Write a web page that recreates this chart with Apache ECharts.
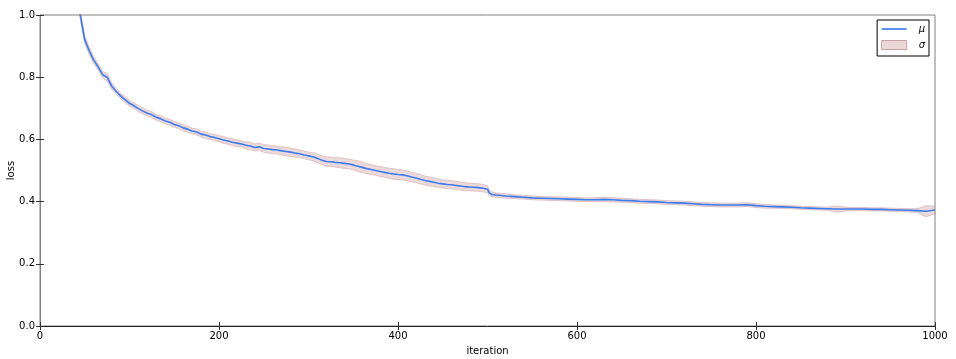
<!DOCTYPE html>
<html>
<head>
<meta charset="utf-8">
<script src="https://cdn.jsdelivr.net/npm/echarts@6/dist/echarts.min.js"></script>
<style>
html,body{margin:0;padding:0;background:#fff;}
#chart{width:956px;height:359px;}
</style>
</head>
<body>
<div id="chart"></div>
<script>
// ---- data ----
const iterations = [
  0, 10, 20, 30, 40,
  50, 55, 60, 65, 70, 75, 80, 85, 90, 95,
  100, 105, 110, 115, 120, 125, 130, 135, 140, 145, 150, 155, 160, 165, 170, 175, 180, 185, 190, 195,
  200, 205, 210, 215, 220, 225, 230, 235, 240, 245, 250, 255, 260, 265, 270, 275, 280, 285, 290, 295,
  300, 305, 310, 315, 320, 325, 330, 335, 340, 345, 350, 355, 360, 365, 370, 375, 380, 385, 390, 395,
  400, 405, 410, 415, 420, 425, 430, 435, 440, 445, 450, 455, 460, 465, 470, 475, 480, 485, 490, 495,
  500, 502, 505,
  510, 520, 530, 540, 550, 560, 570, 580, 590,
  600, 610, 620, 630, 640, 650, 660, 670, 680, 690,
  700, 710, 720, 730, 740, 750, 760, 770, 780, 790,
  800, 810, 820, 830, 840, 850, 860, 870, 880, 890,
  900, 910, 920, 930, 940, 950, 960, 970, 980, 990, 1000
];
const muValues = [
  1.70, 1.50, 1.33, 1.20, 1.08,
  0.920, 0.885, 0.855, 0.833, 0.808, 0.800, 0.772, 0.755, 0.740, 0.728,
  0.716, 0.708, 0.699, 0.691, 0.684, 0.679, 0.671, 0.666, 0.659, 0.655, 0.648, 0.644, 0.637, 0.633, 0.627, 0.624, 0.617, 0.614, 0.609, 0.606,
  0.602, 0.598, 0.595, 0.591, 0.588, 0.585, 0.581, 0.579, 0.574, 0.576, 0.571, 0.569, 0.567, 0.566, 0.563, 0.561, 0.559, 0.556, 0.554, 0.550,
  0.547, 0.544, 0.539, 0.533, 0.529, 0.528, 0.526, 0.525, 0.523, 0.521, 0.518, 0.514, 0.510, 0.506, 0.503, 0.500, 0.497, 0.494, 0.491, 0.489,
  0.487, 0.486, 0.483, 0.479, 0.476, 0.472, 0.468, 0.465, 0.462, 0.459, 0.457, 0.455, 0.454, 0.452, 0.450, 0.448, 0.447, 0.446, 0.445, 0.443,
  0.440, 0.428, 0.423,
  0.421, 0.418, 0.416, 0.414, 0.412, 0.411, 0.410, 0.409, 0.408,
  0.407, 0.406, 0.406, 0.407, 0.406, 0.404, 0.403, 0.401, 0.400, 0.399,
  0.397, 0.396, 0.395, 0.393, 0.391, 0.390, 0.389, 0.389, 0.389, 0.390,
  0.387, 0.385, 0.384, 0.383, 0.382, 0.380, 0.379, 0.378, 0.377, 0.376,
  0.376, 0.376, 0.376, 0.375, 0.375, 0.374, 0.373, 0.372, 0.371, 0.369, 0.373
];
const sigmaValues = [
  0.020, 0.015, 0.012, 0.012, 0.012,
  0.012, 0.011, 0.011, 0.010, 0.010, 0.013, 0.010, 0.009, 0.009, 0.009,
  0.009, 0.009, 0.010, 0.009, 0.009, 0.010, 0.009, 0.009, 0.009, 0.010, 0.009, 0.009, 0.010, 0.009, 0.009, 0.010, 0.009, 0.011, 0.009, 0.010,
  0.010, 0.011, 0.010, 0.011, 0.011, 0.010, 0.011, 0.012, 0.011, 0.012, 0.012, 0.013, 0.013, 0.012, 0.013, 0.014, 0.013, 0.013, 0.012, 0.012,
  0.012, 0.013, 0.014, 0.014, 0.015, 0.015, 0.015, 0.016, 0.016, 0.015, 0.016, 0.017, 0.017, 0.016, 0.016, 0.015, 0.016, 0.016, 0.016, 0.017,
  0.016, 0.016, 0.016, 0.015, 0.015, 0.015, 0.014, 0.014, 0.014, 0.014, 0.013, 0.013, 0.013, 0.013, 0.013, 0.013, 0.012, 0.012, 0.012, 0.012,
  0.011, 0.009, 0.008,
  0.007, 0.007, 0.006, 0.006, 0.006, 0.006, 0.006, 0.006, 0.006,
  0.006, 0.006, 0.006, 0.007, 0.007, 0.006, 0.006, 0.006, 0.006, 0.006,
  0.006, 0.006, 0.006, 0.006, 0.006, 0.006, 0.006, 0.006, 0.006, 0.006,
  0.006, 0.006, 0.005, 0.005, 0.005, 0.005, 0.005, 0.005, 0.005, 0.010,
  0.006, 0.005, 0.005, 0.005, 0.005, 0.005, 0.005, 0.005, 0.006, 0.018, 0.012
];
const xTicks = [0, 200, 400, 600, 800, 1000];
const yTicks = [0.0, 0.2, 0.4, 0.6, 0.8, 1.0];

// ---- build series data ----
const muData = iterations.map((it, i) => [it, muValues[i]]);
const upperData = iterations.map((it, i) => [it, +(muValues[i] + sigmaValues[i]).toFixed(4)]);
const lowerData = iterations.map((it, i) => [it, +(muValues[i] - sigmaValues[i]).toFixed(4)]);

const FONT = 'DejaVu Sans';
const chart = echarts.init(document.getElementById('chart'), null, {renderer: 'canvas'});

const tickStyle = {show: true, inside: true, length: 4, lineStyle: {color: '#333', width: 1}};

chart.setOption({
  animation: false,
  backgroundColor: '#fff',
  grid: {left: 40, right: 21, top: 15, bottom: 33, show: true, borderColor: '#808080', borderWidth: 1,
         containLabel: false, outerBoundsMode: 'none', z: 10},
  xAxis: [{
    type: 'value', min: 0, max: 1000, interval: 200, z: 10,
    name: 'iteration', nameLocation: 'middle', nameGap: 20, nameMoveOverlap: false,
    nameTextStyle: {fontFamily: FONT, fontSize: 10, color: '#000'},
    axisLine: {show: true, onZero: false, lineStyle: {color: '#222', width: 1}},
    axisTick: tickStyle,
    axisLabel: {fontFamily: FONT, fontSize: 10, color: '#000', margin: 5, formatter: v => String(v)},
    splitLine: {show: false}
  }, {
    type: 'value', min: 0, max: 1000, interval: 200, position: 'top', z: 10,
    axisLine: {show: false},
    axisTick: tickStyle,
    axisLabel: {show: false}, splitLine: {show: false}
  }],
  yAxis: [{
    type: 'value', min: 0, max: 1, interval: 0.2, z: 10,
    name: 'loss', nameLocation: 'middle', nameGap: 24, nameRotate: 90, nameMoveOverlap: false,
    nameTextStyle: {fontFamily: FONT, fontSize: 10, color: '#000'},
    axisLine: {show: true, lineStyle: {color: '#808080', width: 1}},
    axisTick: tickStyle,
    axisLabel: {fontFamily: FONT, fontSize: 10, color: '#000', margin: 5, formatter: v => v.toFixed(1)},
    splitLine: {show: false}
  }, {
    type: 'value', min: 0, max: 1, interval: 0.2, position: 'right', z: 10,
    axisLine: {show: false},
    axisTick: tickStyle,
    axisLabel: {show: false}, splitLine: {show: false}
  }],
  legend: {
    right: 27, top: 20, z: 20,
    orient: 'vertical',
    backgroundColor: '#fff',
    borderColor: '#000', borderWidth: 1, borderRadius: 0,
    padding: [4, 4, 6, 4],
    itemGap: 6,
    itemWidth: 25, itemHeight: 9,
    textStyle: {fontFamily: FONT, fontSize: 10, fontStyle: 'italic', color: '#000', padding: [0, 0, 0, 7]},
    data: [
      {name: 'μ', icon: 'path://M0,0H30V2H0Z', itemStyle: {color: '#3a7bf0', borderWidth: 0}},
      {name: 'σ', icon: 'rect', itemStyle: {color: '#ecd7d7', borderColor: '#caa2a2', borderWidth: 1}}
    ]
  },
  series: [{
    name: 'σ', type: 'line', data: upperData,
    symbol: 'none', clip: true, silent: true, z: 1,
    lineStyle: {color: '#dfc2c2', width: 1},
    itemStyle: {color: '#ecd7d7'},
    areaStyle: {color: '#ecd9d9', opacity: 1, origin: 'start'}
  }, {
    name: 'lower', type: 'line', data: lowerData,
    symbol: 'none', clip: true, silent: true, z: 2,
    lineStyle: {color: '#dfc2c2', width: 1},
    areaStyle: {color: '#ffffff', opacity: 1, origin: 'start'}
  }, {
    name: 'μ', type: 'line', data: muData,
    symbol: 'none', clip: true, z: 3,
    lineStyle: {color: '#3a7bf0', width: 1.6},
    itemStyle: {color: '#3a7bf0'}
  }]
});
</script>
</body>
</html>
